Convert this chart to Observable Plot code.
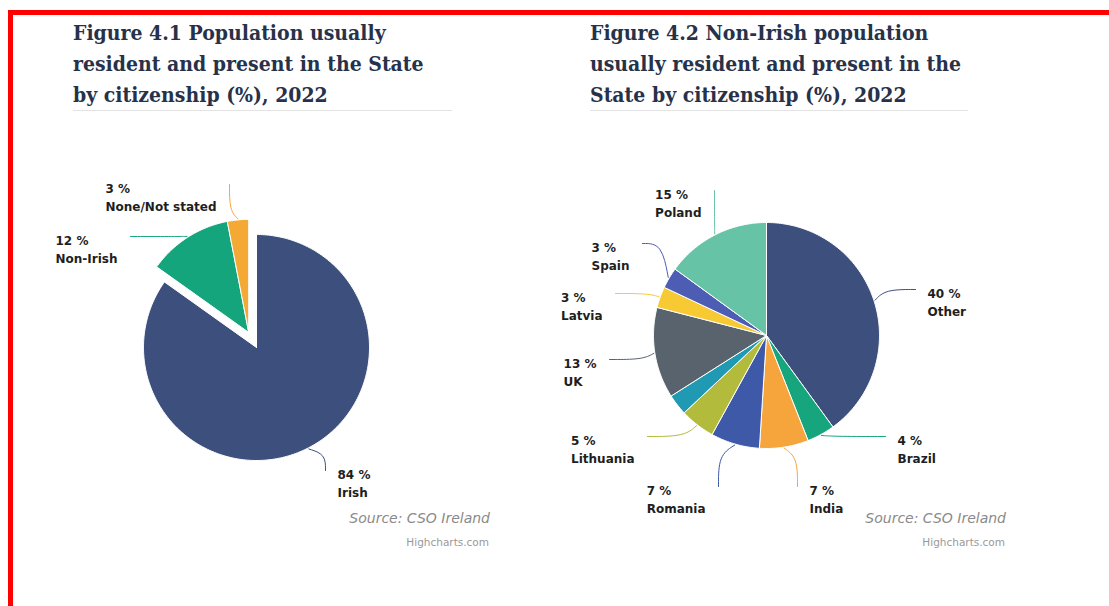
<!DOCTYPE html>
<html><head><meta charset="utf-8">
<script src="https://cdn.jsdelivr.net/npm/d3@7"></script>
<script src="https://cdn.jsdelivr.net/npm/@observablehq/plot@0.6"></script>
<style>
body{margin:0;background:#fff;width:1109px;height:606px;position:relative;overflow:hidden;font-family:"DejaVu Sans",sans-serif;}
#frame{position:absolute;left:8px;top:10px;right:-20px;bottom:-20px;border-top:5px solid #ff0000;border-left:5px solid #ff0000;}
.title{position:absolute;font-family:"DejaVu Serif",serif;font-weight:bold;font-stretch:condensed;font-size:21px;line-height:31px;color:#27324a;border-bottom:1px solid #e3e3e3;white-space:nowrap;}
.chart{position:absolute;}
.source{position:absolute;font-style:italic;font-size:14px;line-height:16px;color:#8a8a8a;text-align:right;width:220px;}
.credit{position:absolute;font-size:10.5px;line-height:12px;color:#999;text-align:right;width:200px;}
</style></head><body>
<div id="frame"></div>
<div class="title" style="left:73px;top:17px;width:379px">Figure 4.1 Population usually<br>resident and present in the State<br>by citizenship (%), 2022</div>
<div class="title" style="left:590px;top:17px;width:378px">Figure 4.2 Non-Irish population<br>usually resident and present in the<br>State by citizenship (%), 2022</div>
<div class="chart" id="c1" style="left:20px;top:130px"></div>
<div class="chart" id="c2" style="left:540px;top:130px"></div>
<div class="source" style="left:270px;top:510px">Source: CSO Ireland</div>
<div class="credit" style="left:289px;top:536px">Highcharts.com</div>
<div class="source" style="left:786px;top:510px">Source: CSO Ireland</div>
<div class="credit" style="left:805px;top:536px">Highcharts.com</div>
<script>
// ---- data ----
const pie1Names  = ["Irish", "Non-Irish", "None/Not stated"];
const pie1Values = [84, 12, 3];
const pie1Sliced = [false, true, true];
const pie1Colors = ["#3d4f7c", "#15a57d", "#f4a935"];

const pie2Names  = ["Other", "Brazil", "India", "Romania", "Lithuania", "(unlabelled)", "UK", "Latvia", "Spain", "Poland"];
const pie2Values = [40, 4, 7, 7, 5, 3, 13, 3, 3, 15];
const pie2Shown  = [true, true, true, true, true, false, true, true, true, true];
const pie2Colors = ["#3d4f7c", "#17a57e", "#f5a53b", "#3d59a8", "#b3bb3c", "#1f9ab2", "#59636e", "#f7c932", "#4d5db3", "#67c3a6"];

// ---- layout (pixels) ----
const pie1Layout = {W: 500, H: 420, cx: 236, cy: 217, r: 113, slicedOffset: 17,
  labelAt: {"Irish": [69, 123], "Non-Irish": [-126, -111], "None/Not stated": [-27, -163]}};
const pie2Layout = {W: 520, H: 420, cx: 226, cy: 205, r: 113, slicedOffset: 0,
  labelAt: {Other: [149, -46], Brazil: [119, 101], India: [31, 151], Romania: [-48, 151], Lithuania: [-119, 101],
            UK: [-157, 24], Latvia: [-151, -42], Spain: [-124, -92], Poland: [-52, -145]}};

const labelFont = {size: 12, weight: "bold", family: "DejaVu Sans"};
const ctx = document.createElement("canvas").getContext("2d");
ctx.font = `${labelFont.weight} ${labelFont.size}px "${labelFont.family}"`;
const textW = s => ctx.measureText(s).width;

function pieChart(names, values, colors, sliced, shown, L) {
  const arcs = d3.pie().sort(null).value(d => d)(values);
  const u = L.r; // px per radius unit
  const sl = arcs.filter((a, i) => sliced[i]);
  let off = [0, 0];
  if (sl.length) {
    const mid = (d3.min(sl, a => a.startAngle) + d3.max(sl, a => a.endAngle)) / 2;
    off = [Math.sin(mid) * L.slicedOffset / u, -Math.cos(mid) * L.slicedOffset / u];
  }
  const poly = [], conn = [], labels = [];
  arcs.forEach((a, i) => {
    const name = names[i];
    const o = sliced[i] ? off : [0, 0];
    poly.push({name, x: o[0], y: o[1]});
    const n = Math.max(2, Math.ceil((a.endAngle - a.startAngle) / (Math.PI / 180)));
    for (let k = 0; k <= n; k++) {
      const t = a.startAngle + (a.endAngle - a.startAngle) * k / n;
      poly.push({name, x: o[0] + Math.sin(t), y: o[1] - Math.cos(t)});
    }
    poly.push({name, x: o[0], y: o[1]});
    if (!shown[i]) return;
    const mid = (a.startAngle + a.endAngle) / 2;
    const edge = [o[0] + Math.sin(mid) * 1.01, o[1] - Math.cos(mid) * 1.01];
    const at = L.labelAt[name];
    const anc = [at[0] / u, at[1] / u];
    const vertical = Math.abs(at[0]) < 0.6 * Math.abs(at[1]);
    const elbow = vertical ? [anc[0], anc[1] + 0.75 * (edge[1] - anc[1])]
                           : [anc[0] + 0.75 * (edge[0] - anc[0]), anc[1]];
    conn.push({name, x: anc[0], y: anc[1]}, {name, x: elbow[0], y: elbow[1]}, {name, x: edge[0], y: edge[1]});
    const l1 = `${values[i]} %`, l2 = name;
    const bw = Math.max(textW(l1), textW(l2));
    const right = at[0] > 0;
    labels.push({text: `${l1}\n${l2}`,
      x: right ? (at[0] + 12) / u : (at[0] - 13 - bw) / u,
      y: (at[1] + 11.5) / u});
  });
  return Plot.plot({
    width: L.W, height: L.H,
    margin: 0,
    x: {domain: [-L.cx / u, (L.W - L.cx) / u], range: [0, L.W], axis: null},
    y: {domain: [-L.cy / u, (L.H - L.cy) / u], range: [0, L.H], axis: null},
    color: {domain: names, range: colors},
    marks: [
      Plot.line(poly, {x: "x", y: "y", z: "name", fill: "name", stroke: "white", strokeWidth: 1, strokeLinejoin: "round"}),
      Plot.line(conn, {x: "x", y: "y", z: "name", stroke: "name", strokeWidth: 1, curve: "basis"}),
      Plot.text(labels, {x: "x", y: "y", text: "text", textAnchor: "start", lineAnchor: "middle",
        lineHeight: 18 / labelFont.size, fontSize: labelFont.size, fontWeight: labelFont.weight,
        fontFamily: labelFont.family, fill: "#1e1e1e"})
    ]
  });
}

document.getElementById("c1").append(pieChart(pie1Names, pie1Values, pie1Colors, pie1Sliced, [true, true, true], pie1Layout));
document.getElementById("c2").append(pieChart(pie2Names, pie2Values, pie2Colors, pie2Values.map(() => false), pie2Shown, pie2Layout));
</script>
</body></html>
